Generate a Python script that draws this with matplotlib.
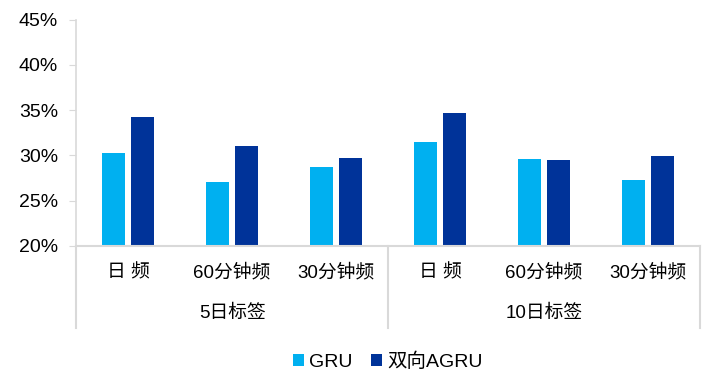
import numpy as np
import matplotlib
matplotlib.use("Agg")
import matplotlib.pyplot as plt
from matplotlib.ticker import FuncFormatter

plt.rcParams['font.family'] = ['Liberation Sans', 'Noto Sans CJK SC', 'DejaVu Sans']

# ---- datos ----
freqs = ["日 频", "60分钟频", "30分钟频", "日 频", "60分钟频", "30分钟频"]
groups = ["5日标签", "10日标签"]
gru = [30.3, 27.1, 28.7, 31.5, 29.6, 27.3]
agru = [34.3, 31.0, 29.7, 34.7, 29.5, 29.9]
series_names = ["GRU", "双向AGRU"]

c_gru = "#00B0F0"
c_agru = "#003399"
grey = "#D9D9D9"

fig = plt.figure(figsize=(7.05, 3.81), dpi=100)
ax = fig.add_axes([0.108, 0.355, 0.885, 0.593])

x = np.arange(len(freqs))
w = 0.22
gap = 0.03
ax.bar(x - w / 2 - gap, gru, width=w, color=c_gru, label=series_names[0])
ax.bar(x + w / 2 + gap, agru, width=w, color=c_agru, label=series_names[1])

ax.set_ylim(20, 45)
ax.set_yticks(range(20, 46, 5))
ax.yaxis.set_major_formatter(FuncFormatter(lambda v, p: f"{v:.0f}%"))
ax.set_xlim(-0.5, len(freqs) - 0.5)
ax.set_xticks([])

for s in ["top", "right"]:
    ax.spines[s].set_visible(False)
ax.spines["left"].set_color(grey)
ax.spines["bottom"].set_color(grey)
ax.spines["left"].set_linewidth(1.2)
ax.spines["bottom"].set_linewidth(1.5)
ax.tick_params(axis="y", length=5, color=grey, labelsize=14, pad=8)

# etiquetas de categoria (dos niveles)
trans = ax.get_xaxis_transform()
for i, f in enumerate(freqs):
    ax.text(i, -0.12, f, transform=trans, ha="center", va="center", fontsize=13.5)
for g, name in enumerate(groups):
    ax.text(g * 3 + 1, -0.3, name, transform=trans, ha="center", va="center", fontsize=13.5)

# lineas separadoras
for xs in [-0.5, 2.5, 5.5]:
    ax.plot([xs, xs], [0, -0.365], transform=trans, color=grey, linewidth=1.5, clip_on=False)

fig.legend(loc="center", bbox_to_anchor=(0.55, 0.05), ncol=2, frameon=False,
           fontsize=14, handlelength=0.55, handleheight=0.55, handletextpad=0.25,
           columnspacing=1.0)

fig.savefig("out.png", dpi=100)
